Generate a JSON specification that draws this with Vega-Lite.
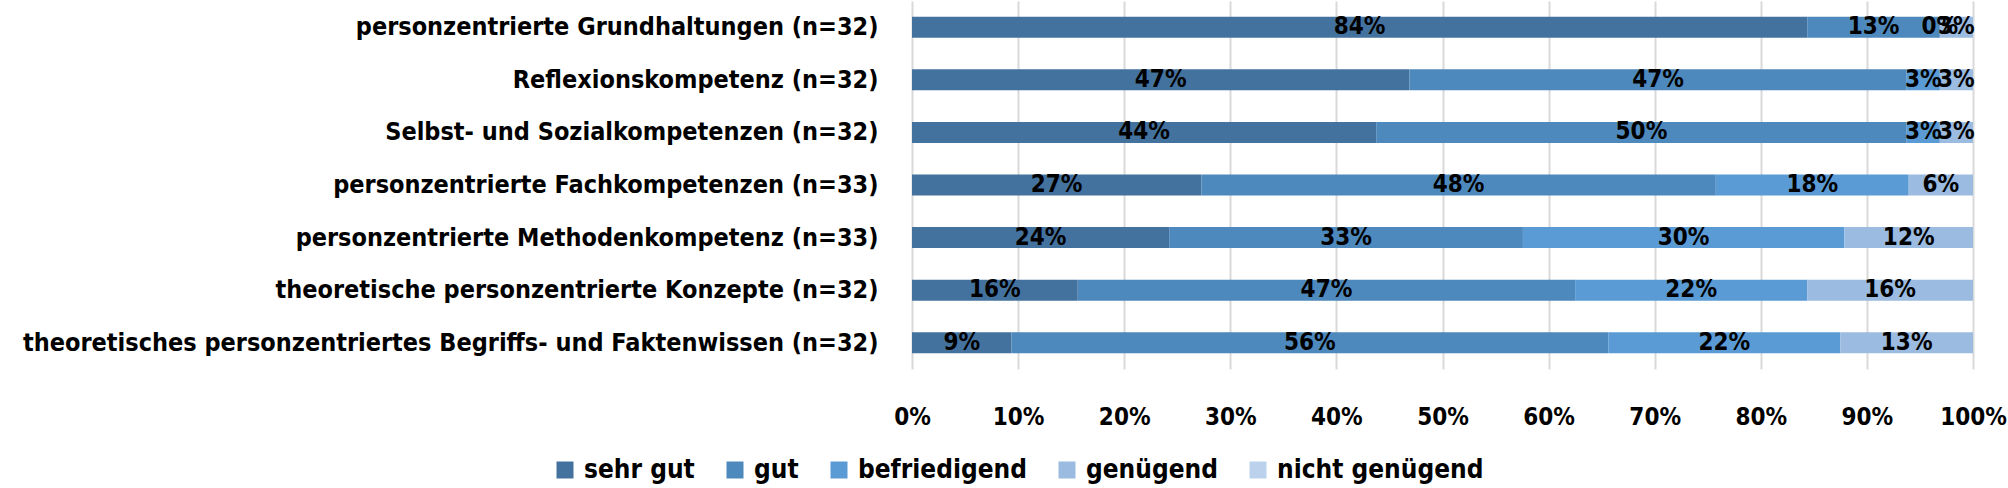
{
  "$schema": "https://vega.github.io/schema/vega-lite/v6.json",
  "width": 1061,
  "height": 368,
  "autosize": {"type": "none"},
  "padding": {"left": 912, "top": 1, "right": 35, "bottom": 119},
  "background": "white",
  "config": {
    "view": {"stroke": null},
    "font": "DejaVu Sans Condensed, DejaVu Sans, sans-serif"
  },
  "data": {
    "values": [
      {"cat": "personzentrierte Grundhaltungen (n=32)", "grade": "sehr gut", "ord": 1, "value": 0.84375},
      {"cat": "personzentrierte Grundhaltungen (n=32)", "grade": "gut", "ord": 2, "value": 0.125},
      {"cat": "personzentrierte Grundhaltungen (n=32)", "grade": "befriedigend", "ord": 3, "value": 0.0},
      {"cat": "personzentrierte Grundhaltungen (n=32)", "grade": "genügend", "ord": 4, "value": 0.03125},
      {"cat": "Reflexionskompetenz (n=32)", "grade": "sehr gut", "ord": 1, "value": 0.46875},
      {"cat": "Reflexionskompetenz (n=32)", "grade": "gut", "ord": 2, "value": 0.46875},
      {"cat": "Reflexionskompetenz (n=32)", "grade": "befriedigend", "ord": 3, "value": 0.03125},
      {"cat": "Reflexionskompetenz (n=32)", "grade": "genügend", "ord": 4, "value": 0.03125},
      {"cat": "Selbst- und Sozialkompetenzen (n=32)", "grade": "sehr gut", "ord": 1, "value": 0.4375},
      {"cat": "Selbst- und Sozialkompetenzen (n=32)", "grade": "gut", "ord": 2, "value": 0.5},
      {"cat": "Selbst- und Sozialkompetenzen (n=32)", "grade": "befriedigend", "ord": 3, "value": 0.03125},
      {"cat": "Selbst- und Sozialkompetenzen (n=32)", "grade": "genügend", "ord": 4, "value": 0.03125},
      {"cat": "personzentrierte Fachkompetenzen (n=33)", "grade": "sehr gut", "ord": 1, "value": 0.2727},
      {"cat": "personzentrierte Fachkompetenzen (n=33)", "grade": "gut", "ord": 2, "value": 0.4849},
      {"cat": "personzentrierte Fachkompetenzen (n=33)", "grade": "befriedigend", "ord": 3, "value": 0.1818},
      {"cat": "personzentrierte Fachkompetenzen (n=33)", "grade": "genügend", "ord": 4, "value": 0.0606},
      {"cat": "personzentrierte Methodenkompetenz (n=33)", "grade": "sehr gut", "ord": 1, "value": 0.2424},
      {"cat": "personzentrierte Methodenkompetenz (n=33)", "grade": "gut", "ord": 2, "value": 0.3334},
      {"cat": "personzentrierte Methodenkompetenz (n=33)", "grade": "befriedigend", "ord": 3, "value": 0.303},
      {"cat": "personzentrierte Methodenkompetenz (n=33)", "grade": "genügend", "ord": 4, "value": 0.1212},
      {"cat": "theoretische personzentrierte Konzepte (n=32)", "grade": "sehr gut", "ord": 1, "value": 0.15625},
      {"cat": "theoretische personzentrierte Konzepte (n=32)", "grade": "gut", "ord": 2, "value": 0.46875},
      {"cat": "theoretische personzentrierte Konzepte (n=32)", "grade": "befriedigend", "ord": 3, "value": 0.21875},
      {"cat": "theoretische personzentrierte Konzepte (n=32)", "grade": "genügend", "ord": 4, "value": 0.15625},
      {"cat": "theoretisches personzentriertes Begriffs- und Faktenwissen (n=32)", "grade": "sehr gut", "ord": 1, "value": 0.09375},
      {"cat": "theoretisches personzentriertes Begriffs- und Faktenwissen (n=32)", "grade": "gut", "ord": 2, "value": 0.5625},
      {"cat": "theoretisches personzentriertes Begriffs- und Faktenwissen (n=32)", "grade": "befriedigend", "ord": 3, "value": 0.21875},
      {"cat": "theoretisches personzentriertes Begriffs- und Faktenwissen (n=32)", "grade": "genügend", "ord": 4, "value": 0.125}
    ]
  },
  "encoding": {
    "y": {
      "field": "cat",
      "type": "nominal",
      "sort": null,
      "title": null,
      "scale": {"paddingInner": 0.6, "paddingOuter": 0.3},
      "axis": {
        "domain": false,
        "ticks": false,
        "labelFontSize": 25,
        "labelFontWeight": "bold",
        "labelColor": "black",
        "labelPadding": 34,
        "labelLimit": 1000
      }
    }
  },
  "layer": [
    {
      "mark": {"type": "bar"},
      "encoding": {
        "x": {
          "field": "value",
          "type": "quantitative",
          "stack": "zero",
          "title": null,
          "scale": {"domain": [0, 1], "nice": false},
          "axis": {
            "format": ".0%",
            "values": [0, 0.1, 0.2, 0.3, 0.4, 0.5, 0.6, 0.7, 0.8, 0.9, 1.0],
            "domain": false,
            "ticks": false,
            "grid": true,
            "gridColor": "#d9d9d9",
            "gridWidth": 2,
            "labelFontSize": 24,
            "labelFontWeight": "bold",
            "labelColor": "black",
            "labelPadding": 36,
            "labelFlush": false
          }
        },
        "color": {
          "field": "grade",
          "type": "nominal",
          "scale": {
            "domain": ["sehr gut", "gut", "befriedigend", "genügend", "nicht genügend"],
            "range": ["#44729e", "#4e89bd", "#5a9bd5", "#9bbbe0", "#bcd2ec"]
          },
          "legend": {
            "title": null,
            "orient": "none",
            "direction": "horizontal",
            "legendX": -360,
            "legendY": 456,
            "padding": 0,
            "symbolType": "square",
            "symbolSize": 289,
            "symbolStrokeWidth": 0,
            "labelFontSize": 26,
            "labelFontWeight": "bold",
            "labelColor": "black",
            "labelOffset": 6,
            "columnPadding": 27,
            "labelLimit": 400
          }
        },
        "order": {"field": "ord"}
      }
    },
    {
      "transform": [
        {"stack": "value", "groupby": ["cat"], "sort": [{"field": "ord", "order": "ascending"}], "as": ["v0", "v1"]},
        {"calculate": "(datum.v0 + datum.v1) / 2", "as": "mid"}
      ],
      "mark": {"type": "text", "fontSize": 24, "fontWeight": "bold", "color": "black", "align": "center", "baseline": "middle"},
      "encoding": {
        "x": {"field": "mid", "type": "quantitative"},
        "text": {"field": "value", "type": "quantitative", "format": ".0%"}
      }
    }
  ]
}
